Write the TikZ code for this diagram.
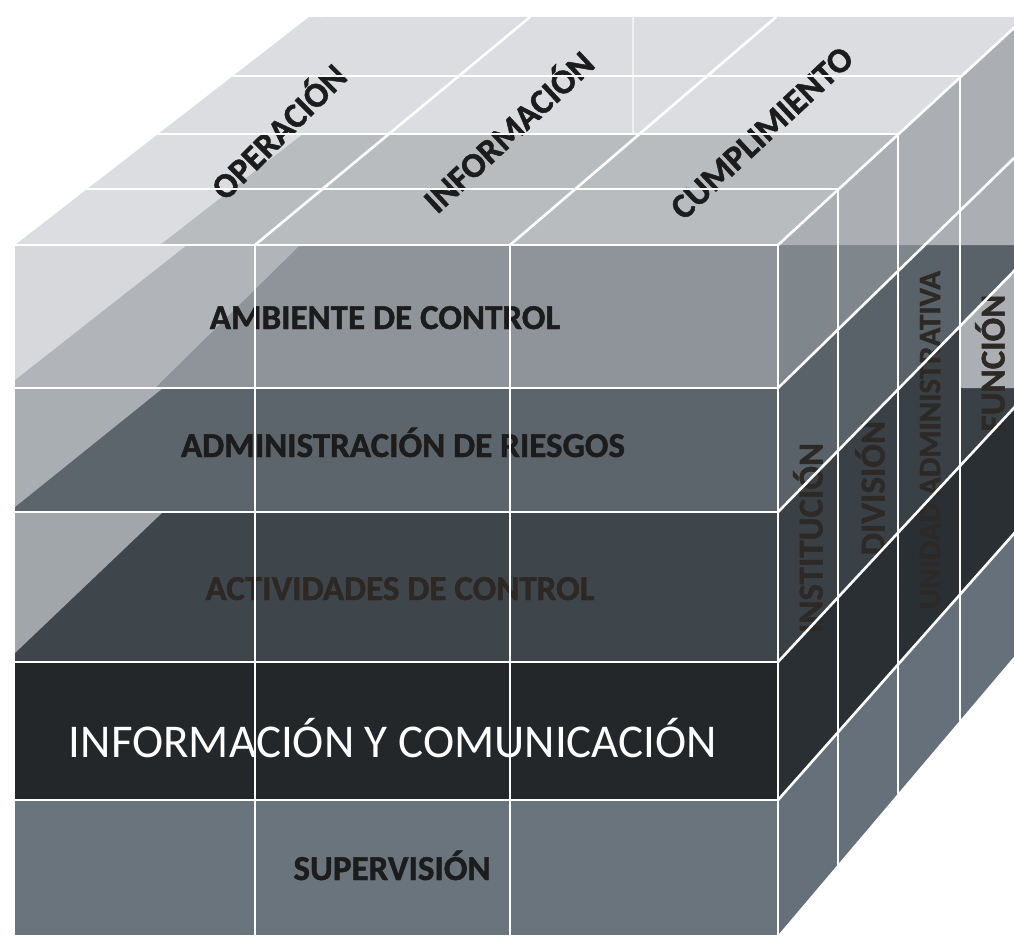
\documentclass[tikz,border=0pt]{standalone}
\usepackage{fontspec}
\newfontfamily\calib[BoldFeatures={FakeBold=1.3}]{Carlito}
\definecolor{topl}{HTML}{DCDDE0}
\definecolor{topd}{HTML}{B9BCBF}
\definecolor{ra}{HTML}{8E9499}
\definecolor{raa}{HTML}{D6D8DB}
\definecolor{rab}{HTML}{B1B5B9}
\definecolor{rb}{HTML}{5C656B}
\definecolor{rba}{HTML}{A9AEB2}
\definecolor{rc}{HTML}{3E464C}
\definecolor{rca}{HTML}{A1A6AA}
\definecolor{rd}{HTML}{23272A}
\definecolor{re}{HTML}{69747C}
\definecolor{sa}{HTML}{7F878C}
\definecolor{sb}{HTML}{596268}
\definecolor{sc}{HTML}{394146}
\definecolor{sd}{HTML}{2A2F33}
\definecolor{se}{HTML}{65707A}
\definecolor{sl}{HTML}{ABAFB3}
\definecolor{labdark}{HTML}{1C1C1C}
\definecolor{actc}{HTML}{2E2824}
\definecolor{rtxt}{HTML}{2D2926}
\begin{document}
\begin{tikzpicture}[x=1pt,y=-1pt,
  wl/.style={white, line width=2.6pt, line cap=round},
  faint/.style={white, opacity=0.6, line width=1.6pt},
  lab/.style={font=\calib\bfseries\fontsize{35}{35}\selectfont, text=labdark, inner sep=0pt},
  biglab/.style={font=\calib\fontsize{47}{47}\selectfont, text=white, inner sep=0pt},
]
\useasboundingbox (0,0) rectangle (1014,938);
\clip (0,0) rectangle (1014,938);

% ---------- corners ----------
\coordinate (FL) at (15,245);
\coordinate (FR) at (778,245);
\coordinate (BL) at (309,17);
\coordinate (BR) at (1026,16.8);
\coordinate (FBL) at (15,935);
\coordinate (FBR) at (778,935);

% ---------- top face ----------
\fill[topl] (FL) -- (FR) -- (BR) -- (BL) -- cycle;
\fill[topd] (160,245) -- (303,134) -- (899,134) -- (FR) -- cycle;

% ---------- front face rows ----------
\fill[ra] (15,245) rectangle (778,388);
\fill[rab] (15,380) -- (15,388) -- (155,388) -- (300,245) -- (187,245) -- cycle;
\fill[raa] (15,245) -- (15,380) -- (187,245) -- cycle;
\fill[rb] (15,388) rectangle (778,512);
\fill[rba] (15,388) -- (15,507) -- (163,388) -- cycle;
\fill[rc] (15,512) rectangle (778,662);
\fill[rca] (15,512) -- (15,653) -- (163,512) -- cycle;
\fill[rd] (15,662) rectangle (778,800);
\fill[re] (15,800) rectangle (778,935);

% ---------- right face ----------
\coordinate (D0a) at (778,245); \coordinate (D0b) at (1026,16.8);
\coordinate (D1a) at (778,388); \coordinate (D1b) at (1026,146.4);
\coordinate (D2a) at (778,512); \coordinate (D2b) at (1026,258.8);
\coordinate (D3a) at (778,662); \coordinate (D3b) at (1026,394.9);
\coordinate (D4a) at (778,800); \coordinate (D4b) at (1026,520);
\coordinate (D5a) at (778,935); \coordinate (D5b) at (1026,642.4);
\fill[sa] (D0a) -- (D0b) -- (D1b) -- (D1a) -- cycle;
\fill[sb] (D1a) -- (D1b) -- (D2b) -- (D2a) -- cycle;
\fill[sc] (D2a) -- (D2b) -- (D3b) -- (D3a) -- cycle;
\fill[sd] (D3a) -- (D3b) -- (D4b) -- (D4a) -- cycle;
\fill[se] (D4a) -- (D4b) -- (D5b) -- (D5a) -- cycle;
% lighter patches seen through the side
\fill[sl] (778,245) -- (D0b) -- (D1b) -- (925,245) -- cycle;
\fill[sl] (925,245) -- (D1b) -- (1026,245) -- cycle;
\fill[sl] (960,326.2) -- (D2b) -- (1026,388) -- (960,388) -- cycle;

% ---------- labels ----------
\node[lab, anchor=base] (amb) at (385,329) {AMBIENTE DE CONTROL};
\node[lab, anchor=base] (adm) at (403,457) {ADMINISTRACIÓN DE RIESGOS};
\node[lab, anchor=base, text=actc] (act) at (400,600) {ACTIVIDADES DE CONTROL};
\node[biglab, anchor=base] (inf) at (393,757) {INFORMACIÓN Y COMUNICACIÓN};
\node[lab, anchor=base] (sup) at (392,880) {SUPERVISIÓN};

\node[lab, rotate=45] (ope) at (277,130) {OPERACIÓN};
\node[lab, rotate=43] (infm) at (507,130) {INFORMACIÓN};
\node[lab, rotate=43] (cum) at (762,133) {CUMPLIMIENTO};

\node[lab, rotate=90, text=rtxt] (ins) at (808,538) {INSTITUCIÓN};
\node[lab, rotate=90, text=rtxt] (div) at (870,488) {DIVISIÓN};
\node[lab, rotate=90, text=rtxt, font=\calib\bfseries\fontsize{31}{31}\selectfont] (uni) at (930,440) {UNIDAD ADMINISTRATIVA};
\node[lab, rotate=90, text=rtxt] (fun) at (990,363) {FUNCIÓN};

% ---------- white grid lines ----------
% front
\draw[wl] (FL) -- (FR);
\draw[wl] (15,388) -- (778,388);
\draw[wl] (15,512) -- (778,512);
\draw[wl] (15,662) -- (778,662);
\draw[wl] (15,800) -- (778,800);
\draw[wl] (255,245) -- (255,935);
\draw[wl] (510,245) -- (510,935);
\draw[wl] (FR) -- (FBR);
% top
\draw[wl] (87,189) -- (839,189);
\draw[wl] (158,134) -- (899,134);
\draw[wl] (233,76) -- (962,76);
\draw[wl] (255,245) -- (530,17);
\draw[wl] (510,245) -- (776,17);
\draw[wl] (FR) -- (BR);
\draw[faint] (633,17) -- (633,134);
% right
\draw[wl] (D1a) -- (D1b);
\draw[wl] (D2a) -- (D2b);
\draw[wl] (D3a) -- (D3b);
\draw[wl] (D4a) -- (D4b);
\draw[wl] (838,189.8) -- (838,864.2);
\draw[wl] (898,134.6) -- (898,793.4);
\draw[wl] (960,77.6) -- (960,720.2);
\end{tikzpicture}
\end{document}
